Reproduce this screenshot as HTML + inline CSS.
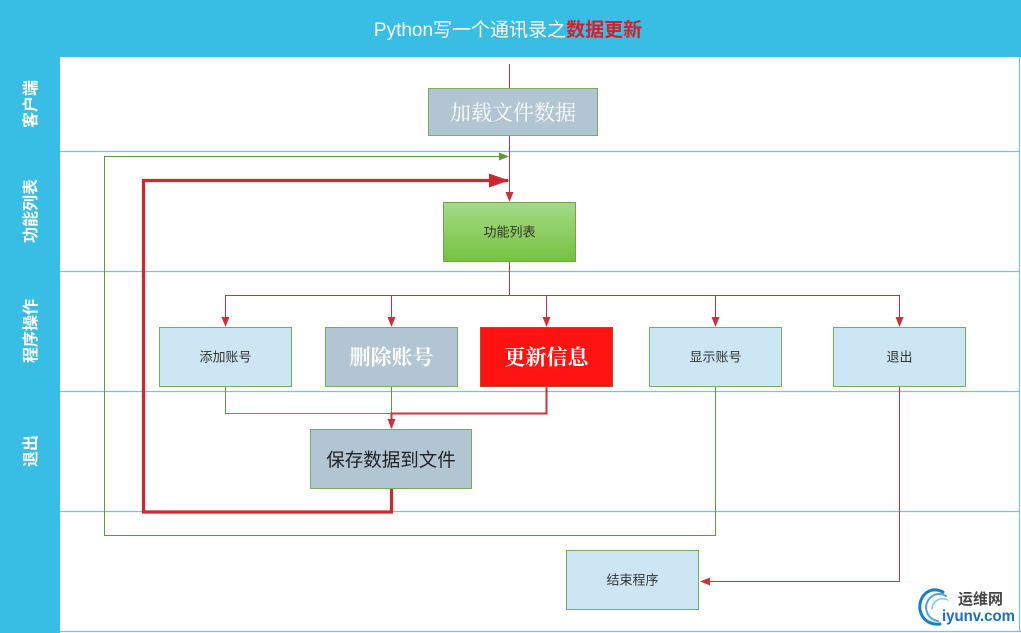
<!DOCTYPE html>
<html><head><meta charset="utf-8"><style>
html,body{margin:0;padding:0;background:#fff;}
svg{display:block;}
.s{font-family:"Liberation Sans","Noto Sans CJK SC",sans-serif;}
.sf{font-family:"Liberation Serif","Noto Serif CJK SC",serif;}
</style></head><body>
<svg width="1021" height="633" viewBox="0 0 1021 633" xmlns="http://www.w3.org/2000/svg">
<defs>
<linearGradient id="g1" x1="0" y1="0" x2="0" y2="1"><stop offset="0" stop-color="#a6da86"/><stop offset="1" stop-color="#74c23e"/></linearGradient>
<marker id="ar" markerWidth="10" markerHeight="8" refX="9" refY="4" orient="auto" markerUnits="userSpaceOnUse"><path d="M0,0 L10,4 L0,8 Z" fill="#c8323a"/></marker>
<marker id="ag" markerWidth="10" markerHeight="8" refX="9" refY="4" orient="auto" markerUnits="userSpaceOnUse"><path d="M0,0 L10,4 L0,8 Z" fill="#5e9a3a"/></marker>
<marker id="ab" markerWidth="20" markerHeight="14" refX="19" refY="7" orient="auto" markerUnits="userSpaceOnUse"><path d="M0,0 L20,7 L0,14 Z" fill="#d0262e"/></marker>
</defs>
<rect x="0" y="0" width="1021" height="633" fill="#fff"/>
<rect x="0" y="0" width="1021" height="57" fill="#38bde5"/>
<rect x="0" y="0" width="60" height="633" fill="#38bde5"/>
<!-- lane lines -->
<g stroke="#7cc3d3" stroke-width="1.2">
<line x1="60" y1="151.5" x2="1019" y2="151.5"/>
<line x1="60" y1="271.5" x2="1019" y2="271.5"/>
<line x1="60" y1="391.5" x2="1019" y2="391.5"/>
<line x1="60" y1="511.5" x2="1019" y2="511.5"/>
<line x1="60" y1="631.5" x2="1021" y2="631.5"/>
<line x1="1019.5" y1="57" x2="1019.5" y2="632"/>
</g>
<!-- title -->
<text x="508" y="36" text-anchor="middle" class="s" font-size="19" fill="#ffffff">Python写一个通讯录之<tspan fill="#d81e2a" font-weight="bold">数据更新</tspan></text>
<!-- lane labels -->
<g class="s" font-size="16" fill="#ffffff" font-weight="bold" text-anchor="middle">
<text transform="translate(36,104) rotate(-90)">客户端</text>
<text transform="translate(36,211) rotate(-90)">功能列表</text>
<text transform="translate(36,331) rotate(-90)">程序操作</text>
<text transform="translate(36,451) rotate(-90)">退出</text>
</g>
<!-- connectors -->
<g fill="none">
<line x1="509.5" y1="64" x2="509.5" y2="201" stroke="#c8323a" stroke-width="1" marker-end="url(#ar)"/>
<polyline points="715.5,387 715.5,535.5 104.5,535.5 104.5,156.5 508,156.5" stroke="#5e9a3a" stroke-width="1" marker-end="url(#ag)"/>
<polyline points="391.5,489 391.5,512 143.5,512 143.5,180.5 508,180.5" stroke="#cc2a32" stroke-width="3.2" marker-end="url(#ab)"/>
<line x1="509.5" y1="261" x2="509.5" y2="295.5" stroke="#c8323a" stroke-width="1"/>
<line x1="225" y1="295.5" x2="899.5" y2="295.5" stroke="#c8323a" stroke-width="1"/>
<line x1="225.5" y1="295" x2="225.5" y2="326" stroke="#c8323a" stroke-width="1" marker-end="url(#ar)"/>
<line x1="391.5" y1="295" x2="391.5" y2="326" stroke="#c8323a" stroke-width="1" marker-end="url(#ar)"/>
<line x1="546.5" y1="295" x2="546.5" y2="326" stroke="#c8323a" stroke-width="1" marker-end="url(#ar)"/>
<line x1="715.5" y1="295" x2="715.5" y2="326" stroke="#c8323a" stroke-width="1" marker-end="url(#ar)"/>
<line x1="899.5" y1="295" x2="899.5" y2="326" stroke="#c8323a" stroke-width="1" marker-end="url(#ar)"/>
<polyline points="225.5,387 225.5,413.5 391.5,413.5" stroke="#5e9a3a" stroke-width="1"/>
<line x1="391.5" y1="387" x2="391.5" y2="413" stroke="#5e9a3a" stroke-width="1"/>
<polyline points="546.5,387 546.5,413.5 391.5,413.5 391.5,428" stroke="#d0323a" stroke-width="2" marker-end="url(#ar)"/>
<polyline points="899.5,387 899.5,581.5 701,581.5" stroke="#c8323a" stroke-width="1" marker-end="url(#ar)"/>
</g>
<!-- nodes -->
<rect x="428.5" y="88.5" width="169" height="47" fill="#b2c5d3" stroke="#79ad58" stroke-width="1"/>
<text x="513" y="120" text-anchor="middle" class="sf" font-size="21" fill="#ffffff">加载文件数据</text>
<rect x="443.5" y="202.5" width="132" height="59" fill="url(#g1)" stroke="#6ea64a" stroke-width="1"/>
<text x="509.5" y="236.5" text-anchor="middle" class="s" font-size="13" fill="#333">功能列表</text>
<rect x="159.5" y="327.5" width="132" height="59" fill="#cde6f3" stroke="#79ad58" stroke-width="1"/>
<text x="225.5" y="361.5" text-anchor="middle" class="s" font-size="13" fill="#333">添加账号</text>
<rect x="325.5" y="327.5" width="132" height="59" fill="#b2c5d3" stroke="#79ad58" stroke-width="1"/>
<text x="391.5" y="364.5" text-anchor="middle" class="sf" font-size="21" font-weight="bold" fill="#ffffff">删除账号</text>
<rect x="480.5" y="327.5" width="132" height="59" fill="#ff1212" stroke="#b8482a" stroke-width="1"/>
<text x="546.5" y="364.5" text-anchor="middle" class="sf" font-size="21" font-weight="bold" fill="#ffffff">更新信息</text>
<rect x="649.5" y="327.5" width="132" height="59" fill="#cde6f3" stroke="#79ad58" stroke-width="1"/>
<text x="715.5" y="361.5" text-anchor="middle" class="s" font-size="13" fill="#333">显示账号</text>
<rect x="833.5" y="327.5" width="132" height="59" fill="#cde6f3" stroke="#79ad58" stroke-width="1"/>
<text x="899.5" y="361.5" text-anchor="middle" class="s" font-size="13" fill="#333">退出</text>
<rect x="310.5" y="429.5" width="161" height="59" fill="#b2c5d3" stroke="#79ad58" stroke-width="1"/>
<text x="391" y="466.5" text-anchor="middle" class="s" font-size="18.5" fill="#222">保存数据到文件</text>
<rect x="566.5" y="550.5" width="132" height="59" fill="#cde6f3" stroke="#79ad58" stroke-width="1"/>
<text x="632.5" y="584.5" text-anchor="middle" class="s" font-size="13" fill="#333">结束程序</text>
<!-- watermark -->
<g fill="none" stroke-linecap="round">
<path d="M943,592 C930,585 918,596 920,610 C922,620 930,625 940,624" stroke="#1b7fc4" stroke-width="3"/>
<path d="M946,596 C936,590 926,598 926,608 C927,616 932,620 938,621" stroke="#4aa8e0" stroke-width="2"/>
<path d="M948,600 C940,596 932,602 932,609" stroke="#7fc6ee" stroke-width="1.5"/>
</g>
<text x="958" y="604" class="s" font-size="15" font-weight="bold" fill="#444">运维网</text>
<text x="942" y="621" class="s" font-size="16" font-weight="bold" fill="#1a6fbe" textLength="73" lengthAdjust="spacingAndGlyphs">iyunv.com</text>
</svg>
</body></html>
